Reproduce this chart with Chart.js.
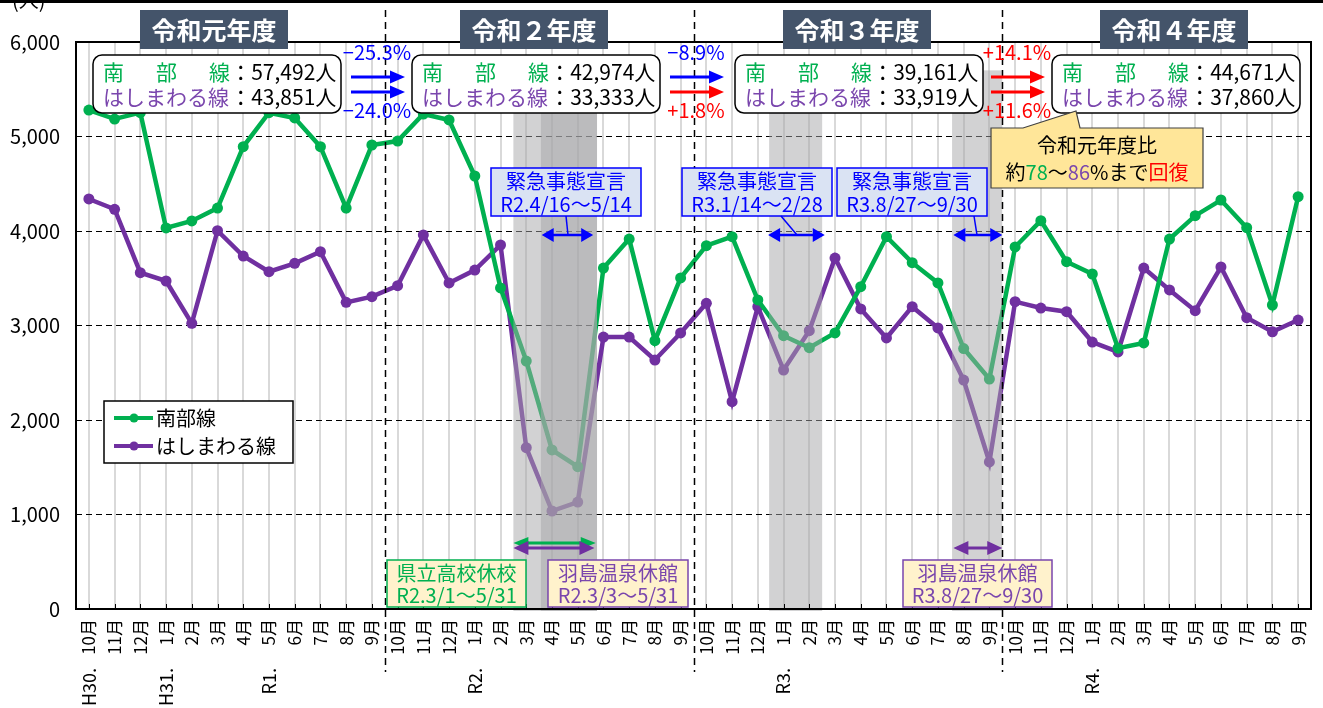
<!DOCTYPE html>
<html>
<head>
<meta charset="utf-8">
<script src="https://cdn.jsdelivr.net/npm/chart.js@4.4.0/dist/chart.umd.min.js"></script>
<style>
html, body { margin: 0; padding: 0; background: #fff; }
</style>
</head>
<body>
<canvas id="myChart" width="1323" height="708"></canvas>
<script>
var FONT = '"Noto Sans CJK JP", "Noto Sans", sans-serif';

// 月ラベル (H30.10月 〜 R4.9月)
var months = [
    "10月", "11月", "12月", "1月", "2月", "3月", "4月", "5月", "6月", "7月", "8月", "9月",
    "10月", "11月", "12月", "1月", "2月", "3月", "4月", "5月", "6月", "7月", "8月", "9月",
    "10月", "11月", "12月", "1月", "2月", "3月", "4月", "5月", "6月", "7月", "8月", "9月",
    "10月", "11月", "12月", "1月", "2月", "3月", "4月", "5月", "6月", "7月", "8月", "9月"
];
var eraIndex = [0, 3, 7, 15, 27, 39];
var eraText = ["H30.", "H31.", "R1.", "R2.", "R3.", "R4."];

var nanbu = [
    5280, 5185, 5252, 4032, 4106, 4243, 4892, 5252, 5196, 4892, 4243, 4910,
    4952, 5238, 5175, 4582, 3397, 2624, 1683, 1506, 3608, 3915, 2839, 3503,
    3845, 3940, 3270, 2892, 2765, 2921, 3411, 3940, 3665, 3450, 2756, 2434,
    3831, 4109, 3675, 3545, 2760, 2815, 3915, 4162, 4328, 4035, 3217, 4363
];
var hashimawaru = [
    4339, 4230, 3559, 3471, 3023, 4003, 3735, 3569, 3658, 3781, 3245, 3305,
    3421, 3958, 3450, 3587, 3852, 1707, 1037, 1132, 2878, 2878, 2635, 2921,
    3235, 2194, 3199, 2529, 2945, 3714, 3175, 2868, 3199, 2974, 2423, 1556,
    3252, 3185, 3146, 2825, 2720, 3608, 3376, 3157, 3619, 3083, 2934, 3058
];
var yTicks = [0, 1000, 2000, 3000, 4000, 5000, 6000];

var yearTitles = ["令和元年度", "令和２年度", "令和３年度", "令和４年度"];
var totalNanbu = ["57,492人", "42,974人", "39,161人", "44,671人"];
var totalHashima = ["43,851人", "33,333人", "33,919人", "37,860人"];
var changeNanbu = ["−25.3%", "−8.9%", "+14.1%"];
var changeHashima = ["−24.0%", "+1.8%", "+11.6%"];

// 網掛け期間 (カテゴリ位置)
var bandFrom = [16.5, 17.57, 26.44, 33.55];
var bandTo = [19.75, 19.75, 28.5, 35.5];

var emergencyText = ["R2.4/16〜5/14", "R3.1/14〜2/28", "R3.8/27〜9/30"];
var emergencyFrom = [17.6, 26.4, 33.6];
var emergencyTo = [19.6, 28.6, 35.5];

var GREEN = "#00b050";
var PURPLE = "#7030a0";
var PURPLE_TXT = "#7a46ad";

function roundRect(ctx, x, y, w, h, r) {
    ctx.beginPath();
    ctx.moveTo(x + r, y);
    ctx.lineTo(x + w - r, y);
    ctx.arcTo(x + w, y, x + w, y + r, r);
    ctx.lineTo(x + w, y + h - r);
    ctx.arcTo(x + w, y + h, x + w - r, y + h, r);
    ctx.lineTo(x + r, y + h);
    ctx.arcTo(x, y + h, x, y + h - r, r);
    ctx.lineTo(x, y + r);
    ctx.arcTo(x, y, x + r, y, r);
    ctx.closePath();
}

function text(ctx, s, x, y, size, color, align, weight) {
    ctx.font = (weight || "normal") + " " + size + "px " + FONT;
    ctx.fillStyle = color;
    ctx.textAlign = align || "left";
    ctx.textBaseline = "middle";
    ctx.fillText(s, x, y);
}

function arrow(ctx, x1, x2, y, color, lw, hl, hh, both) {
    ctx.save();
    ctx.strokeStyle = color;
    ctx.fillStyle = color;
    ctx.lineWidth = lw;
    ctx.beginPath();
    ctx.moveTo(both ? x1 + hl - 1 : x1, y);
    ctx.lineTo(x2 - hl + 1, y);
    ctx.stroke();
    ctx.beginPath();
    ctx.moveTo(x2, y);
    ctx.lineTo(x2 - hl, y - hh / 2);
    ctx.lineTo(x2 - hl, y + hh / 2);
    ctx.closePath();
    ctx.fill();
    if (both) {
        ctx.beginPath();
        ctx.moveTo(x1, y);
        ctx.lineTo(x1 + hl, y - hh / 2);
        ctx.lineTo(x1 + hl, y + hh / 2);
        ctx.closePath();
        ctx.fill();
    }
    ctx.restore();
}

function boxed(ctx, x, y, w, h, fill, border, lw) {
    ctx.save();
    ctx.fillStyle = fill;
    ctx.fillRect(x, y, w, h);
    ctx.strokeStyle = border;
    ctx.lineWidth = lw;
    ctx.strokeRect(x, y, w, h);
    ctx.restore();
}

var annotationPlugin = {
    id: "annotations",
    afterDraw: function(chart) {
        var ctx = chart.ctx;
        var xs = chart.scales.x;
        var ys = chart.scales.y;
        var area = chart.chartArea;
        var step = xs.getPixelForValue(1) - xs.getPixelForValue(0);
        var px = function(v) { return xs.getPixelForValue(0) + v * step; };

        // 網掛け
        ctx.save();
        ctx.fillStyle = "rgba(166,165,168,0.5)";
        var bandTop = ys.getPixelForValue(5700);
        for (var b = 0; b < bandFrom.length; b++) {
            ctx.fillRect(px(bandFrom[b]), bandTop, px(bandTo[b]) - px(bandFrom[b]), area.bottom + 2 - bandTop);
        }
        ctx.restore();

        // 枠と目盛
        ctx.save();
        ctx.strokeStyle = "#000";
        ctx.lineWidth = 2;
        ctx.strokeRect(area.left, area.top, area.right - area.left, area.bottom - area.top);
        ctx.lineWidth = 1;
        ctx.beginPath();
        for (var i = 0; i < months.length; i++) {
            var tx = Math.round(xs.getPixelForValue(i)) + 0.5;
            ctx.moveTo(tx, area.bottom - 5);
            ctx.lineTo(tx, area.bottom);
        }
        ctx.stroke();
        // 年度区切り
        ctx.setLineDash([7, 5]);
        ctx.lineWidth = 1.5;
        [11.5, 23.5, 35.5].forEach(function(v) {
            var lx = Math.round(px(v)) + 0.5;
            ctx.beginPath();
            ctx.moveTo(lx, 10);
            ctx.lineTo(lx, 672);
            ctx.stroke();
        });
        ctx.restore();

        // 元号ラベル
        for (var e = 0; e < eraIndex.length; e++) {
            ctx.save();
            ctx.translate(xs.getPixelForValue(eraIndex[e]), 668);
            ctx.rotate(-Math.PI / 2);
            text(ctx, eraText[e], 0, 0, 18, "#000", "right");
            ctx.restore();
        }

        // 単位と上端線
        text(ctx, "(人)", 12, 0, 20, "#000", "left");
        ctx.fillStyle = "#000";
        ctx.fillRect(0, 0, 1323, 3);

        // 年度タイトル
        var titleX = [140, 460, 783, 1100];
        for (var t = 0; t < 4; t++) {
            ctx.fillStyle = "#44546a";
            ctx.fillRect(titleX[t], 10, 148, 39);
            text(ctx, yearTitles[t], titleX[t] + 74, 30, 25, "#fff", "center", "bold");
        }

        // 年度合計
        var infoX = [93, 412, 735, 1052];
        for (var k = 0; k < 4; k++) {
            var bx = infoX[k];
            ctx.save();
            roundRect(ctx, bx, 55, 248, 58, 9);
            ctx.fillStyle = "#fff";
            ctx.fill();
            ctx.strokeStyle = "#000";
            ctx.lineWidth = 1.5;
            ctx.stroke();
            ctx.restore();
            var cw = 21.2;
            var lx0 = bx + 10;
            text(ctx, "南", lx0, 72, 21, GREEN);
            text(ctx, "部", lx0 + cw * 2.5, 72, 21, GREEN);
            text(ctx, "線", lx0 + cw * 5, 72, 21, GREEN);
            text(ctx, "：" + totalNanbu[k], lx0 + cw * 6, 72, 21, "#000");
            text(ctx, "はしまわる線", lx0, 97, 21, PURPLE_TXT);
            text(ctx, "：" + totalHashima[k], lx0 + cw * 6, 97, 21, "#000");
        }

        // 前年度比
        var arrX = [351, 670, 991];
        for (var a = 0; a < 3; a++) {
            var c1 = changeNanbu[a].charAt(0) === "+" ? "#ff0000" : "#0000ff";
            var c2 = changeHashima[a].charAt(0) === "+" ? "#ff0000" : "#0000ff";
            arrow(ctx, arrX[a], arrX[a] + 54, 77, c1, 3, 15, 13, false);
            arrow(ctx, arrX[a], arrX[a] + 54, 92, c2, 3, 15, 13, false);
            text(ctx, changeNanbu[a], arrX[a] + 26, 52, 20, c1, "center");
            text(ctx, changeHashima[a], arrX[a] + 26, 110, 20, c2, "center");
        }

        // 令和元年度比 吹き出し
        ctx.save();
        ctx.fillStyle = "#ffe699";
        ctx.strokeStyle = "#404040";
        ctx.lineWidth = 1.2;
        ctx.beginPath();
        ctx.moveTo(991, 128);
        ctx.lineTo(1023, 128);
        ctx.lineTo(1076, 111);
        ctx.lineTo(1080, 128);
        ctx.lineTo(1203, 128);
        ctx.lineTo(1203, 188);
        ctx.lineTo(991, 188);
        ctx.closePath();
        ctx.fill();
        ctx.stroke();
        ctx.restore();
        text(ctx, "令和元年度比", 1097, 145, 20, "#000", "center");
        var parts = [["約", "#000"], ["78", GREEN], ["〜", "#000"], ["86", PURPLE_TXT], ["%まで", "#000"], ["回復", "#ff0000"]];
        ctx.font = "20px " + FONT;
        var total = 0;
        parts.forEach(function(p) { total += ctx.measureText(p[0]).width; });
        var cx = 1097 - total / 2;
        parts.forEach(function(p) {
            text(ctx, p[0], cx, 172, 20, p[1], "left");
            ctx.font = "20px " + FONT;
            cx += ctx.measureText(p[0]).width;
        });

        // 緊急事態宣言
        var emX = [491, 682, 837];
        var emLink = [[566, 568], [781, 797], [974, 977]];
        for (var m = 0; m < 3; m++) {
            boxed(ctx, emX[m], 168, 150, 48, "#dae3f3", "#0000ff", 1.5);
            text(ctx, "緊急事態宣言", emX[m] + 75, 181, 20, "#0000ff", "center");
            text(ctx, emergencyText[m], emX[m] + 75, 204, 20, "#0000ff", "center");
            ctx.save();
            ctx.strokeStyle = "#0000ff";
            ctx.lineWidth = 1.5;
            ctx.beginPath();
            ctx.moveTo(emLink[m][0], 216);
            ctx.lineTo(emLink[m][1], 235);
            ctx.stroke();
            ctx.restore();
            arrow(ctx, px(emergencyFrom[m]), px(emergencyTo[m]), 235, "#0000ff", 2.5, 12, 14, true);
        }

        // 休校・休館
        arrow(ctx, px(16.5), px(19.7), 543, GREEN, 3, 15, 12, true);
        arrow(ctx, px(16.5), px(19.65), 548, PURPLE, 3, 15, 14, true);
        arrow(ctx, px(33.6), px(35.5), 548, PURPLE, 3, 15, 14, true);
        var clX = [387, 548, 903];
        var clW = [139, 140, 149];
        var clL1 = ["県立高校休校", "羽島温泉休館", "羽島温泉休館"];
        var clL2 = ["R2.3/1〜5/31", "R2.3/3〜5/31", "R3.8/27〜9/30"];
        var clC = [GREEN, PURPLE_TXT, PURPLE_TXT];
        for (var n = 0; n < 3; n++) {
            boxed(ctx, clX[n], 560, clW[n], 47, "#fff2cc", clC[n], 1.5);
            text(ctx, clL1[n], clX[n] + clW[n] / 2, 573, 20, clC[n], "center");
            text(ctx, clL2[n], clX[n] + clW[n] / 2, 595, 20, clC[n], "center");
        }

        // 凡例
        boxed(ctx, 104, 401, 189, 62, "#fff", "#000", 1.5);
        [[GREEN, "南部線", 418], [PURPLE, "はしまわる線", 446]].forEach(function(l) {
            ctx.save();
            ctx.strokeStyle = l[0];
            ctx.fillStyle = l[0];
            ctx.lineWidth = 4;
            ctx.beginPath();
            ctx.moveTo(114, l[2]);
            ctx.lineTo(153, l[2]);
            ctx.stroke();
            ctx.beginPath();
            ctx.arc(134, l[2], 4.5, 0, Math.PI * 2);
            ctx.fill();
            ctx.restore();
            text(ctx, l[1], 156, l[2], 20, "#000", "left");
        });
    }
};

var data = {
    labels: months,
    datasets: [
        {
            label: "南部線",
            data: nanbu,
            borderColor: GREEN,
            backgroundColor: GREEN,
            borderWidth: 4.5,
            pointRadius: 5.5,
            pointBorderWidth: 0,
            tension: 0
        },
        {
            label: "はしまわる線",
            data: hashimawaru,
            borderColor: PURPLE,
            backgroundColor: PURPLE,
            borderWidth: 4.5,
            pointRadius: 5.5,
            pointBorderWidth: 0,
            tension: 0
        }
    ]
};

var config = {
    type: "line",
    data: data,
    options: {
        responsive: false,
        animation: false,
        devicePixelRatio: 1,
        layout: { padding: { top: 42, right: 12, left: 0, bottom: 0 } },
        plugins: { legend: { display: false }, tooltip: { enabled: false } },
        scales: {
            x: {
                offset: true,
                grid: { offset: false, color: "#d9d9d9", lineWidth: 2, drawTicks: false },
                border: { display: false },
                ticks: {
                    autoSkip: false, minRotation: 90, maxRotation: 90, padding: 10,
                    color: "#000", font: { size: 17, family: FONT }
                },
                afterFit: function(s) {
                    s.height = 99;
                    s.paddingLeft = 0;
                    s.paddingRight = 0;
                }
            },
            y: {
                min: 0,
                max: 6000,
                afterBuildTicks: function(s) { s.ticks = yTicks.map(function(v) { return { value: v }; }); },
                grid: { color: "#000", lineWidth: 1, drawTicks: false },
                border: { display: false, dash: [6, 4] },
                ticks: {
                    padding: 16, color: "#000", font: { size: 20, family: FONT },
                    callback: function(v) { return v.toLocaleString("en-US"); }
                },
                afterFit: function(s) { s.width = 76; }
            }
        }
    },
    plugins: [annotationPlugin]
};

var myChart = new Chart(document.getElementById("myChart").getContext("2d"), config);
</script>
</body>
</html>
